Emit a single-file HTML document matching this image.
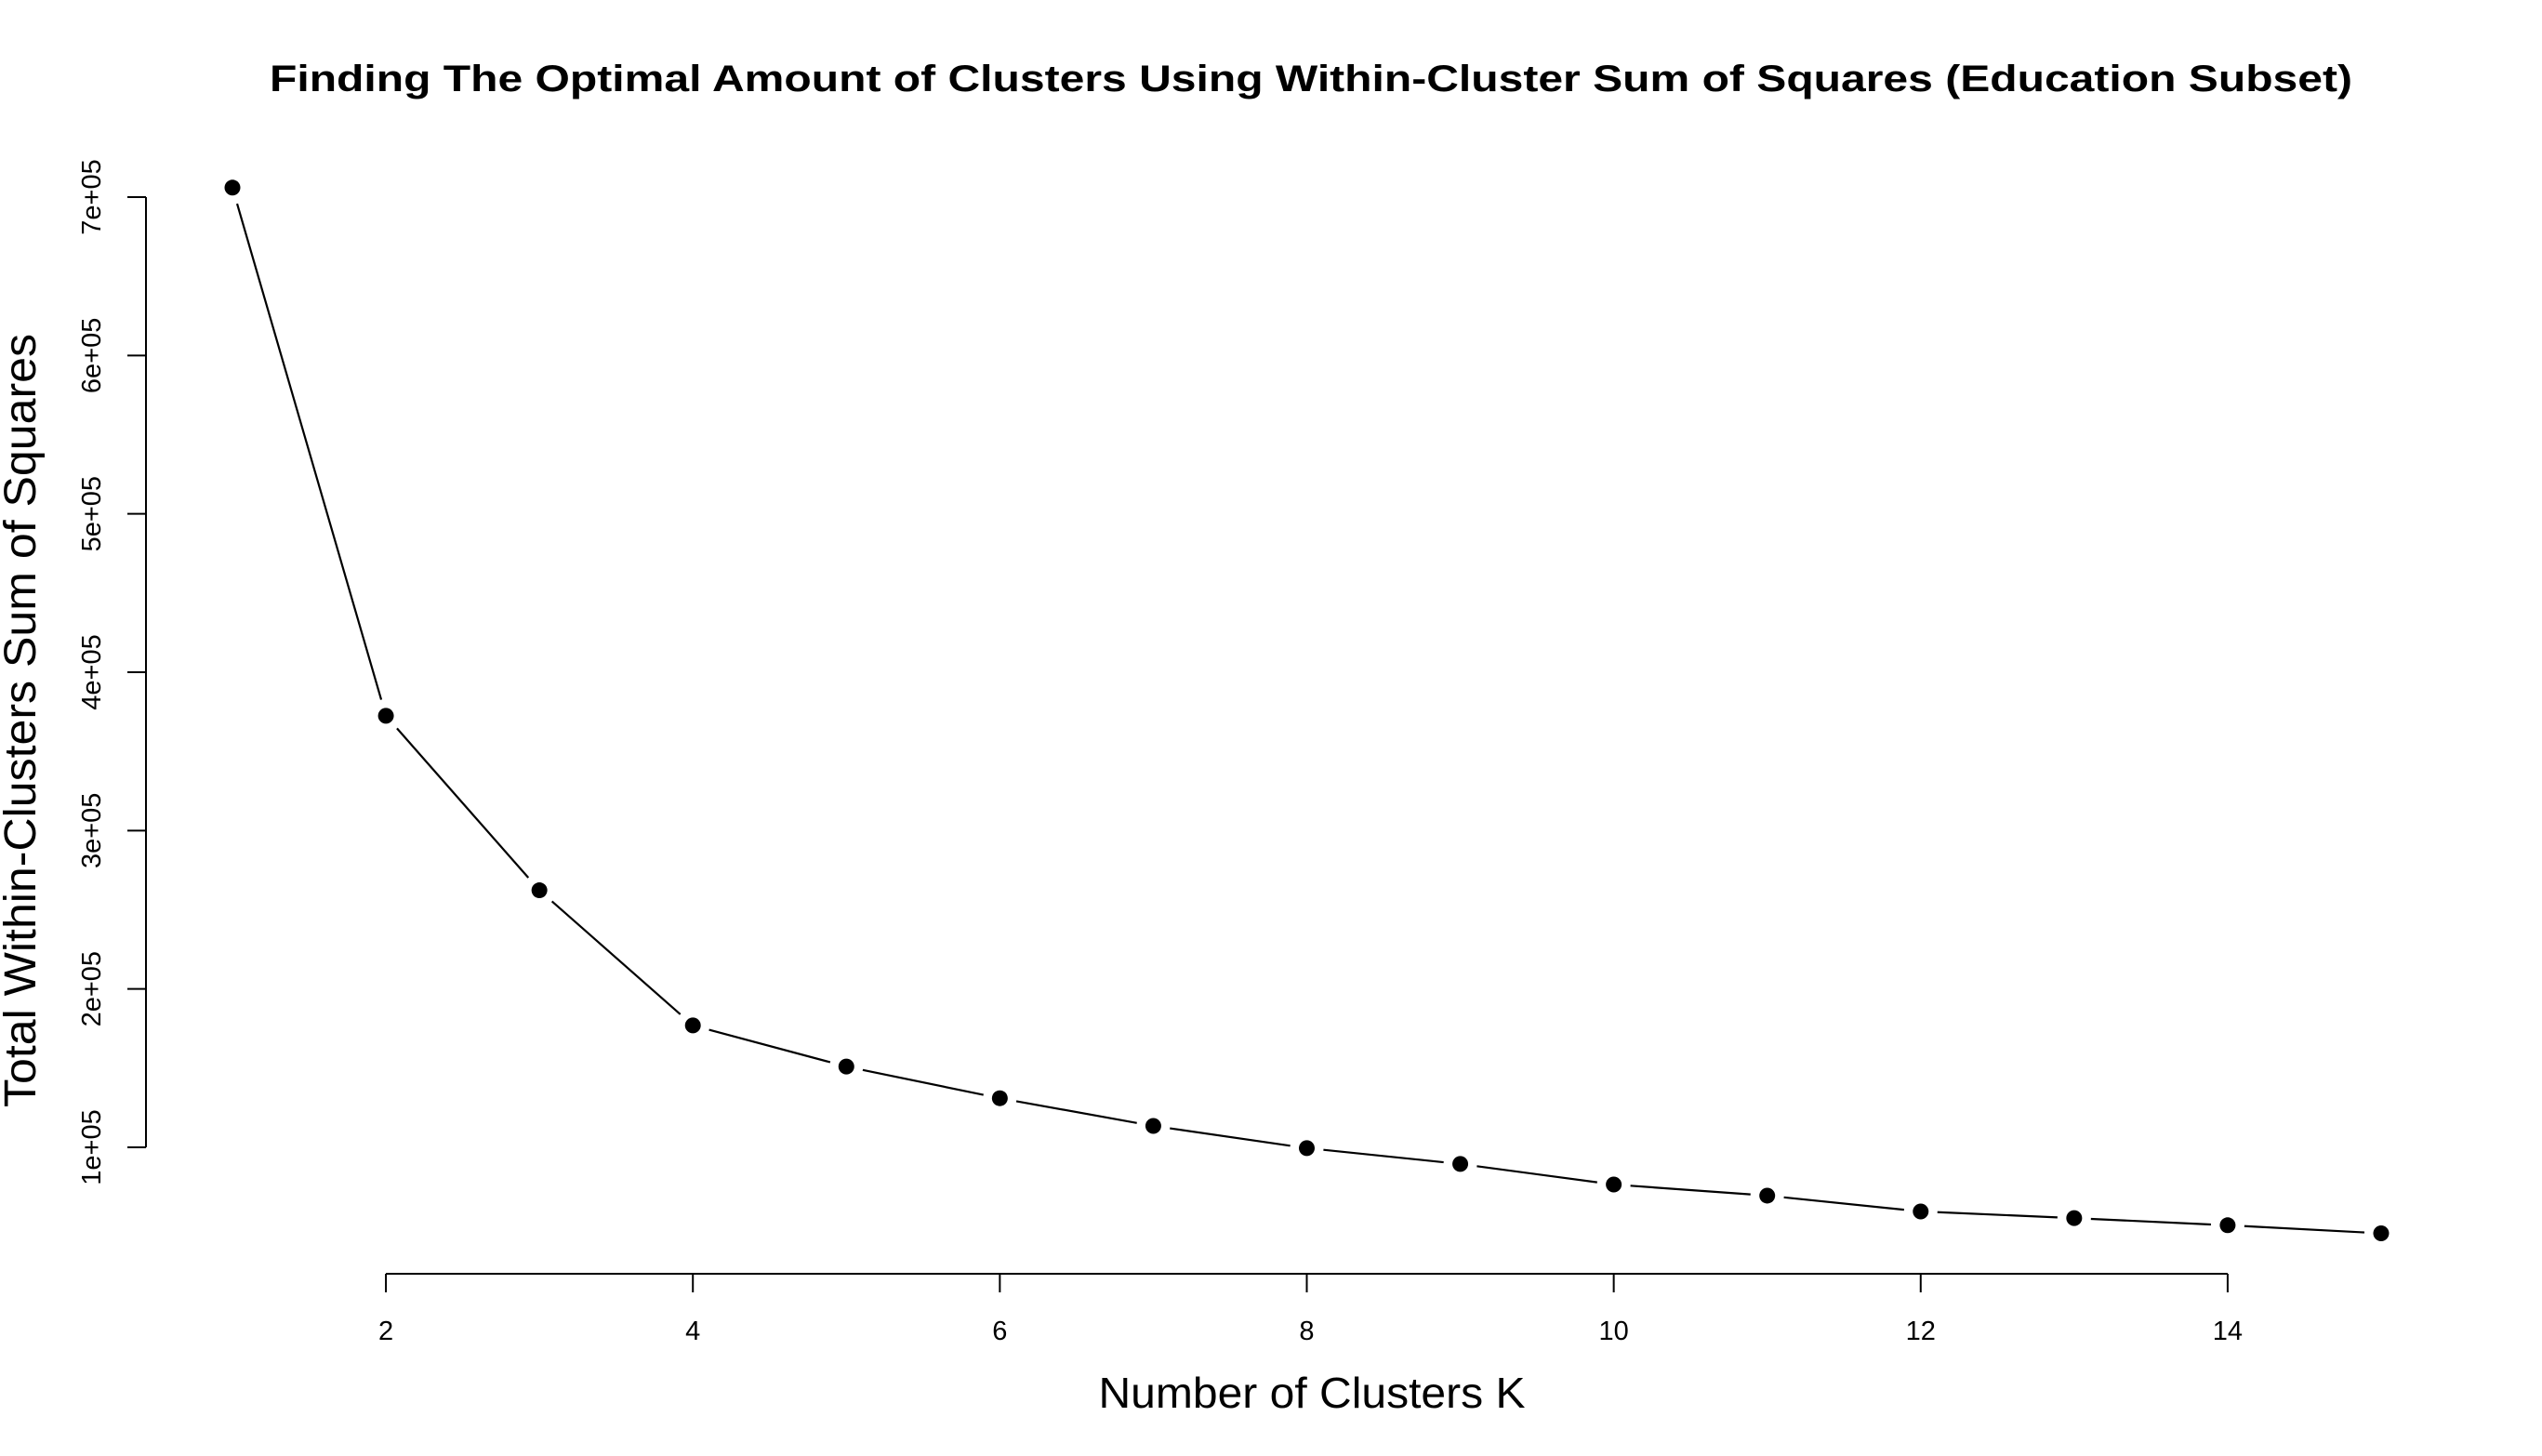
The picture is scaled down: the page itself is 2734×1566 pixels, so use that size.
<!DOCTYPE html>
<html><head><meta charset="utf-8"><style>html,body{margin:0;padding:0;background:#fff}svg{display:block}text{font-family:"Liberation Sans",Arial,sans-serif;fill:#000}</style></head>
<body>
<svg id="chart" width="2734" height="1566" viewBox="0 0 2734 1566" xmlns="http://www.w3.org/2000/svg">
<text x="1410" y="98" text-anchor="middle" font-size="40" font-weight="bold" textLength="2240" lengthAdjust="spacingAndGlyphs">Finding The Optimal Amount of Clusters Using Within-Cluster Sum of Squares (Education Subset)</text>
<text x="1411" y="1514" text-anchor="middle" font-size="46" textLength="459" lengthAdjust="spacingAndGlyphs">Number of Clusters K</text>
<text transform="translate(38,775) rotate(-90)" text-anchor="middle" font-size="48" textLength="832" lengthAdjust="spacingAndGlyphs">Total Within-Clusters Sum of Squares</text>
<g id="axes"></g>
<g id="series"></g>
</svg>
<script>
const kValues=[1,2,3,4,5,6,7,8,9,10,11,12,13,14,15];
const wssValues=[706000,372500,262300,177000,151000,131000,113500,99500,89500,76500,69500,59500,55300,50800,45700];
const xTicks=[2,4,6,8,10,12,14];
const yTicks=[100000,200000,300000,400000,500000,600000,700000];
const yTickLabels=["1e+05","2e+05","3e+05","4e+05","5e+05","6e+05","7e+05"];
const NS="http://www.w3.org/2000/svg";
function xs(k){return 250+(k-1)*165.07;}
function ys(v){return 1234-(v-100000)/100000*170.33;}
function mk(tag,attrs,parent){const e=document.createElementNS(NS,tag);for(const a in attrs)e.setAttribute(a,attrs[a]);parent.appendChild(e);return e;}
const axes=document.getElementById('axes');
const series=document.getElementById('series');
let yl=mk('line',{x1:157,x2:157,y1:ys(yTicks[yTicks.length-1]),y2:ys(yTicks[0]),stroke:'#000','stroke-width':2},axes);


yTicks.forEach((v,i)=>{
 let t=mk('line',{x1:137,x2:157,y1:ys(v),y2:ys(v),stroke:'#000','stroke-width':2},axes);
 
 
 let tx=mk('text',{transform:`translate(108,${ys(v)}) rotate(-90)`,'text-anchor':'middle','font-size':29},axes);
 tx.textContent=yTickLabels[i];
 
 
});
let xl=mk('line',{x1:xs(xTicks[0]),x2:xs(xTicks[xTicks.length-1]),y1:1370,y2:1370,stroke:'#000','stroke-width':2},axes);


xTicks.forEach(k=>{
 let t=mk('line',{x1:xs(k),x2:xs(k),y1:1370,y2:1390,stroke:'#000','stroke-width':2},axes);
 
 
 let tx=mk('text',{x:xs(k),y:1441,'text-anchor':'middle','font-size':29},axes);
 tx.textContent=k;
 
 
});
const gap=18;
for(let i=0;i<kValues.length-1;i++){
 const x1=xs(kValues[i]),y1=ys(wssValues[i]),x2=xs(kValues[i+1]),y2=ys(wssValues[i+1]);
 const d=Math.hypot(x2-x1,y2-y1);if(d<2*gap)continue;
 const ux=(x2-x1)/d,uy=(y2-y1)/d;
 let s=mk('line',{x1:x1+ux*gap,y1:y1+uy*gap,x2:x2-ux*gap,y2:y2-uy*gap,stroke:'#000','stroke-width':2.2},series);
 
 
}
kValues.forEach((k,i)=>{
 let c=mk('circle',{cx:xs(k),cy:ys(wssValues[i]),r:8.5,fill:'#000'},series);
 
 
});
</script>
</body></html>
